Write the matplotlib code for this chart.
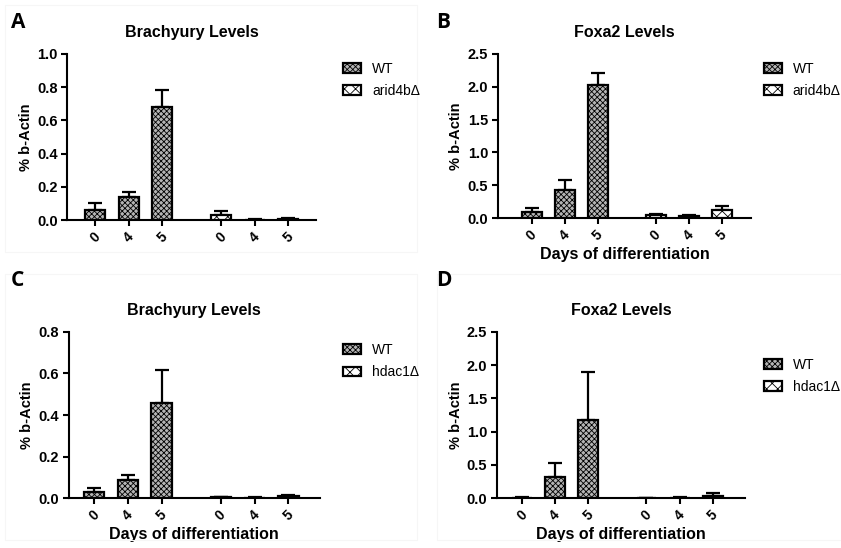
import matplotlib.pyplot as plt
from matplotlib.patches import Patch

plt.rcParams['font.family'] = ['Liberation Sans', 'DejaVu Sans']
plt.rcParams['hatch.linewidth'] = 0.6

# category labels (days) for both genotypes
days = ['0', '4', '5']

# Panel A: Brachyury, WT vs arid4b
a_wt = [0.06, 0.14, 0.68]
a_wt_err = [0.04, 0.03, 0.105]
a_mut = [0.03, 0.003, 0.005]
a_mut_err = [0.025, 0.002, 0.005]

# Panel B: Foxa2, WT vs arid4b
b_wt = [0.09, 0.43, 2.02]
b_wt_err = [0.06, 0.15, 0.19]
b_mut = [0.04, 0.03, 0.12]
b_mut_err = [0.03, 0.02, 0.06]

# Panel C: Brachyury, WT vs hdac1
c_wt = [0.03, 0.085, 0.46]
c_wt_err = [0.02, 0.025, 0.155]
c_mut = [0.003, 0.002, 0.008]
c_mut_err = [0.004, 0.002, 0.007]

# Panel D: Foxa2, WT vs hdac1
d_wt = [0.005, 0.31, 1.17]
d_wt_err = [0.015, 0.22, 0.73]
d_mut = [0.003, 0.003, 0.03]
d_mut_err = [0.002, 0.007, 0.04]

panels = [
    # letter, title, mutant, wt, wt_err, mut, mut_err, ymax, ystep, rect, xlim, xlabel
    ('A', 'Brachyury Levels', 'arid4b\u0394', a_wt, a_wt_err, a_mut, a_mut_err,
     1.0, 0.2, [0.080, 0.5985, 0.296, 0.303], (-0.83, 6.58), False),
    ('B', 'Foxa2 Levels', 'arid4b\u0394', b_wt, b_wt_err, b_mut, b_mut_err,
     2.5, 0.5, [0.592, 0.602, 0.301, 0.2995], (-1.03, 6.64), True),
    ('C', 'Brachyury Levels', 'hdac1\u0394', c_wt, c_wt_err, c_mut, c_mut_err,
     0.8, 0.2, [0.082, 0.0912, 0.298, 0.303], (-0.74, 6.67), True),
    ('D', 'Foxa2 Levels', 'hdac1\u0394', d_wt, d_wt_err, d_mut, d_mut_err,
     2.5, 0.5, [0.591, 0.0912, 0.295, 0.303], (-0.75, 6.72), True),
]

legend_pos = {'A': (0.393, 0.91), 'B': (0.893, 0.91),
              'C': (0.393, 0.397), 'D': (0.893, 0.37)}
letter_pos = {'A': (0.013, 0.978), 'B': (0.518, 0.978),
              'C': (0.013, 0.508), 'D': (0.518, 0.508)}

wt_pos = [0, 1, 2]
mut_pos = [3.75, 4.75, 5.75]
width = 0.6

fig = plt.figure(figsize=(8.41, 5.48), dpi=100)

# faint panel frames like in the source figure
for x0, y0, w, h in [(0.006, 0.54, 0.49, 0.45), (0.52, 0.015, 0.48, 0.485),
                     (0.006, 0.015, 0.49, 0.485)]:
    fig.add_artist(plt.Rectangle((x0, y0), w, h, transform=fig.transFigure,
                                 fill=False, edgecolor='#f6f6f6', lw=0.8))

for (letter, title, mut_name, wt, wt_err, mut, mut_err,
     ymax, ystep, rect, xlim, show_xlabel) in panels:
    ax = fig.add_axes(rect)
    ax.bar(wt_pos, wt, width, color='#b5b5b5', edgecolor='black',
           linewidth=1.6, hatch='xxxxxx', zorder=3)
    ax.bar(mut_pos, mut, width, color='white', edgecolor='black',
           linewidth=1.6, hatch='xxx', zorder=3)
    ax.errorbar(wt_pos, wt, yerr=[[0] * 3, wt_err], fmt='none', ecolor='black',
                elinewidth=1.6, capsize=5, capthick=1.6, zorder=2)
    ax.errorbar(mut_pos, mut, yerr=[[0] * 3, mut_err], fmt='none', ecolor='black',
                elinewidth=1.6, capsize=5, capthick=1.6, zorder=2)

    ax.set_xlim(*xlim)
    ax.set_ylim(0, ymax)
    ticks = [round(i * ystep, 2) for i in range(int(round(ymax / ystep)) + 1)]
    ax.set_yticks(ticks)
    ax.set_yticklabels(['%.1f' % t for t in ticks], fontweight='bold', fontsize=10.5)
    ax.set_xticks(wt_pos + mut_pos)
    ax.set_xticklabels(days + days, rotation=45, fontweight='bold', fontsize=10,
                       ha='center')
    for s in ['top', 'right']:
        ax.spines[s].set_visible(False)
    for s in ['left', 'bottom']:
        ax.spines[s].set_linewidth(1.5)
    ax.tick_params(width=1.5, length=4, pad=3)
    ax.set_ylabel('% b-Actin', fontweight='bold', fontsize=10.5, labelpad=3)
    if show_xlabel:
        ax.set_xlabel('Days of differentiation', fontweight='bold', fontsize=11.5,
                      labelpad=3)
    ax.set_title(title, fontweight='bold', fontsize=11.5, pad=12)

    handles = [Patch(facecolor='#b5b5b5', edgecolor='black', hatch='xxxxxx', lw=1.6),
               Patch(facecolor='white', edgecolor='black', hatch='xxx', lw=1.6)]
    fig.legend(handles, ['WT', mut_name], loc='upper left',
               bbox_to_anchor=legend_pos[letter], frameon=False, fontsize=10,
               handlelength=1.3, handleheight=0.7, handletextpad=0.8,
               labelspacing=0.6)

    fig.text(letter_pos[letter][0], letter_pos[letter][1], letter,
             fontsize=15, fontweight='bold', va='top', family=['Open Sans', 'DejaVu Sans'])

fig.savefig('out.png', dpi=100)
